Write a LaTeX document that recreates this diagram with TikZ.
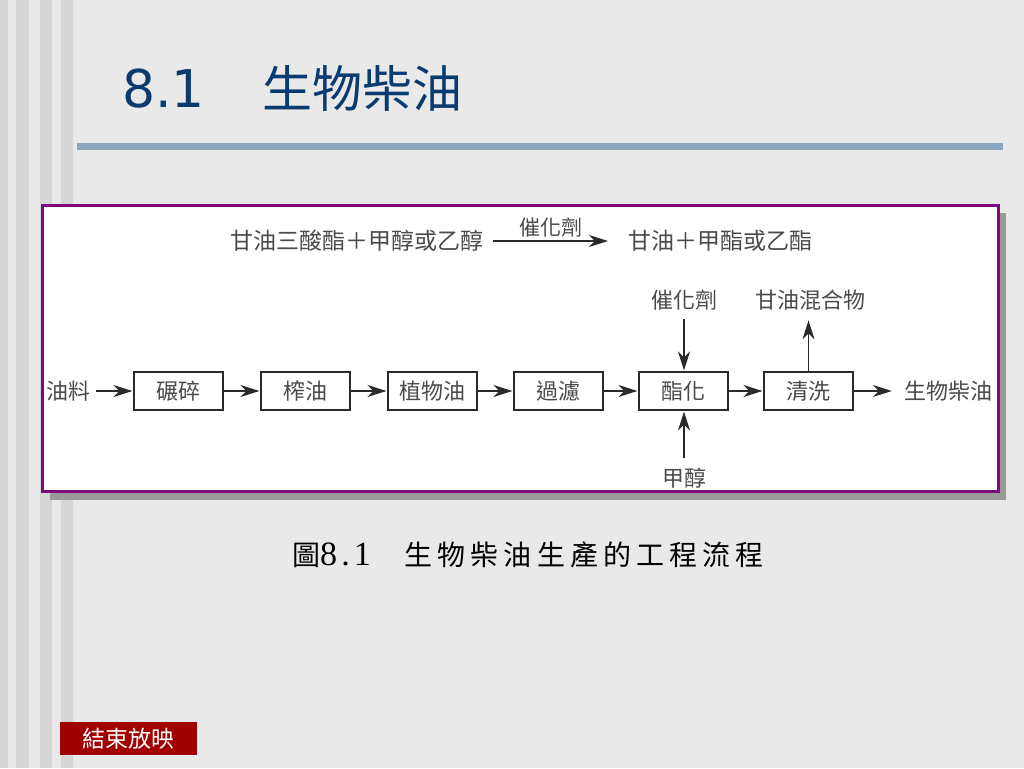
\documentclass[tikz,border=0pt]{standalone}
\usepackage{fontspec}
\usetikzlibrary{arrows.meta}
\newfontfamily\cjk{Noto Sans CJK TC}
\newfontfamily\numfont{DejaVu Sans}
\newfontfamily\capnum{Liberation Serif}
\definecolor{slidebg}{HTML}{E9E9E9}
\definecolor{stripe}{HTML}{D6D6D6}
\definecolor{rulebl}{HTML}{8CA6C0}
\definecolor{titlebl}{HTML}{0A3B70}
\definecolor{frame}{HTML}{7B0A7E}
\definecolor{shadow}{HTML}{9A9A9A}
\definecolor{endred}{HTML}{A00000}
\definecolor{ink}{HTML}{2A2A2A}
\tikzset{
	txt/.style = {text=ink!85, inner sep=3pt, font=\cjk\fontsize{22}{22}\selectfont},
	procbox/.style = {txt, draw=ink, line width=1.2pt, minimum width=89pt, minimum height=38pt},
	flow/.style = {draw=ink, line width=1.3pt, shorten >=1pt, -{Stealth[length=19pt,width=12pt,inset=6pt]}}
}
\begin{document}
\begin{tikzpicture}[x=1pt,y=-1pt]
	% slide background
	\fill[slidebg] (0,0) rectangle (1024,768);
	\useasboundingbox (0,0) rectangle (1024,768);
	\fill[stripe] (0,0) rectangle (8,768);
	\fill[stripe] (16,0) rectangle (29,768);
	\fill[stripe] (40,0) rectangle (52,768);
	\fill[stripe] (61,0) rectangle (73,768);
	\node (Title) at (122,88) [anchor=west, inner sep=0pt, text=titlebl]
		{\numfont\fontsize{52}{52}\selectfont 8.1\hspace{58pt}\cjk\fontsize{50}{50}\selectfont 生物柴油};
	\fill[rulebl] (77,143) rectangle (1003,150);
	% figure panel
	\fill[shadow] (50,213) rectangle (1006,500);
	\fill[white, draw=frame, line width=3pt] (42,205) rectangle (998,491);
	% reaction
	\node (EqL) at (487,241) [txt, anchor=east, font=\cjk\fontsize{23}{23}\selectfont]	{甘油三酸酯＋甲醇或乙醇};
	\node (EqR) at (625,241) [txt, anchor=west, font=\cjk\fontsize{23}{23}\selectfont]	{甘油＋甲酯或乙酯};
	\draw[flow] ([xshift=6pt]EqL.east) -- node[txt, above=0pt, font=\cjk\fontsize{21}{21}\selectfont] (EqCat) {催化劑} ([xshift=-16pt]EqR.west);
	% process line
	\node (Oil) at (68,391)	[txt]	{油料};
	\node (Crush) at (178.5,391)	[procbox]	{碾碎};
	\node (Press) at (305.5,391)	[procbox]	{榨油};
	\node (VegOil) at (432.5,391)	[procbox]	{植物油};
	\node (Filter) at (558.5,391)	[procbox]	{過濾};
	\node (Ester) at (683.5,391)	[procbox]	{酯化};
	\node (Wash) at (808.5,391)	[procbox]	{清洗};
	\node (Bio) at (948,391)	[txt]	{生物柴油};
	\node (Cat) at (684,300)	[txt]	{催化劑};
	\node (Glyc) at (810,300)	[txt]	{甘油混合物};
	\node (Meth) at (684,478)	[txt]	{甲醇};
	\draw[flow] ([xshift=3pt]Oil.east) -- (Crush);
	\draw[flow] (Crush) -- (Press);
	\draw[flow] (Press) -- (VegOil);
	\draw[flow] (VegOil) -- (Filter);
	\draw[flow] (Filter) -- (Ester);
	\draw[flow] (Ester) -- (Wash);
	\draw[flow] (Wash) -- ([xshift=-8pt]Bio.west);
	\draw[flow] ([yshift=-6pt]Cat.south) -- (Cat.south |- Ester.north);
	\draw[flow] (Meth.north |- 0,458) -- (Meth.north |- Ester.south);
	\draw[flow] (Wash.north) -- ([yshift=-6pt]Wash.north |- Glyc.south);
	% caption
	\node (Caption) at (292,555) [anchor=west, inner sep=0pt, text=black]
		{\cjk\fontsize{28}{28}\selectfont 圖{\capnum\fontsize{34}{34}\selectfont\addfontfeature{LetterSpace=12}8.1}\hspace{34pt}\addfontfeature{LetterSpace=18}生物柴油生產的工程流程};
	% end button
	\node (EndShow) at (128.5,738.5) [fill=endred, minimum width=137pt, minimum height=33pt, inner sep=0pt, text=white, font=\cjk\fontsize{23}{23}\selectfont] {結束放映};
\end{tikzpicture}
\end{document}
